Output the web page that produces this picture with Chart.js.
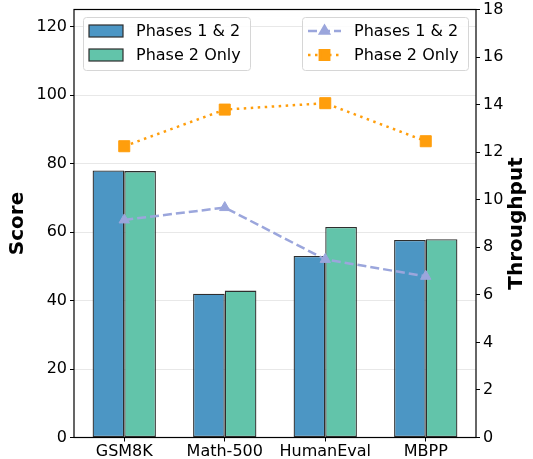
<!DOCTYPE html>
<html>
<head>
<meta charset="utf-8">
<script src="https://cdn.jsdelivr.net/npm/chart.js@4/dist/chart.umd.min.js"></script>
<style>
  html, body { margin: 0; padding: 0; background: #fff; }
  #wrap { width: 533px; height: 459px; }
  canvas { display: block; }
</style>
</head>
<body>
<div id="wrap"><canvas id="c" width="533" height="459"></canvas></div>
<script>
// Benchmarks on the x axis
const categories = ['GSM8K', 'Math-500', 'HumanEval', 'MBPP'];
// Score (left axis) per benchmark
const scoreBoth = [78.0, 42.0, 53.0, 57.7];
const scorePhase2 = [77.8, 42.9, 61.5, 57.9];
// Throughput (right axis) per benchmark
const throughputBoth = [9.15, 9.67, 7.49, 6.78];
const throughputPhase2 = [12.25, 13.79, 14.06, 12.46];
// Series and axis names
const seriesNames = ['Phases 1 & 2', 'Phase 2 Only'];
const leftTitle = 'Score';
const rightTitle = 'Throughput';

const FONT = "'DejaVu Sans', sans-serif";

function fixWidth(w) {
  return function (scale) {
    scale.width = w;
    scale.paddingTop = 0; scale.paddingBottom = 0;
    scale.paddingLeft = 0; scale.paddingRight = 0;
  };
}

// Frame around the plot, rotated axis titles and the two legend boxes
const decorations = {
  id: 'decorations',
  afterDraw(chart) {
    const ctx = chart.ctx;
    const a = chart.chartArea;
    ctx.save();

    // frame
    ctx.strokeStyle = '#000';
    ctx.lineWidth = 1.2;
    ctx.setLineDash([]);
    ctx.strokeRect(a.left, a.top, a.right - a.left, a.bottom - a.top);

    // axis titles, both read bottom to top
    ctx.fillStyle = '#000';
    ctx.font = "bold 20px " + FONT;
    ctx.textAlign = 'center';
    ctx.textBaseline = 'middle';
    const cy = (a.top + a.bottom) / 2;
    [[18, leftTitle], [517, rightTitle]].forEach(([x, t]) => {
      ctx.save();
      ctx.translate(x, cy);
      ctx.rotate(-Math.PI / 2);
      ctx.fillText(t, 0, 0);
      ctx.restore();
    });

    const ds = chart.data.datasets;
    function box(x0, y0, x1, y1) {
      ctx.beginPath();
      ctx.roundRect(x0 + 0.5, y0 + 0.5, x1 - x0, y1 - y0, 3);
      ctx.fillStyle = 'rgba(255,255,255,0.85)';
      ctx.fill();
      ctx.strokeStyle = '#d6d6d6';
      ctx.lineWidth = 1;
      ctx.stroke();
    }
    const rows = [31, 55];
    ctx.font = "16px " + FONT;
    ctx.textAlign = 'left';
    ctx.textBaseline = 'middle';

    // bar legend
    box(83, 17, 250, 70);
    [0, 1].forEach(i => {
      const d = ds[i];
      const y = rows[i];
      ctx.fillStyle = d.backgroundColor;
      ctx.fillRect(89, y - 6, 34, 12);
      ctx.strokeStyle = d.borderColor;
      ctx.lineWidth = 1.2;
      ctx.strokeRect(89, y - 6, 34, 12);
      ctx.fillStyle = '#000';
      ctx.fillText(d.label, 136, y + 1);
    });

    // line legend
    box(302, 17, 468, 70);
    [2, 3].forEach((i, k) => {
      const d = ds[i];
      const y = rows[k];
      ctx.strokeStyle = d.borderColor;
      ctx.lineWidth = d.borderWidth;
      ctx.setLineDash(d.borderDash);
      ctx.beginPath();
      ctx.moveTo(308, y);
      ctx.lineTo(341, y);
      ctx.stroke();
      ctx.setLineDash([]);
      ctx.fillStyle = d.pointBackgroundColor;
      ctx.strokeStyle = d.pointBackgroundColor;
      Chart.helpers.drawPoint(ctx, {
        pointStyle: d.pointStyle, radius: d.pointRadius * 0.85, rotation: 0, borderWidth: 1
      }, 324.5, y);
      ctx.fillStyle = '#000';
      ctx.fillText(d.label, 354, y + 1);
    });

    ctx.restore();
  }
};

new Chart(document.getElementById('c'), {
  type: 'bar',
  data: {
    labels: categories,
    datasets: [
      {
        label: seriesNames[0], data: scoreBoth, yAxisID: 'y', order: 2,
        backgroundColor: '#4C96C4', borderColor: '#2e2e2e', borderWidth: 1.3,
        borderSkipped: false, categoryPercentage: 0.63, barPercentage: 1.0
      },
      {
        label: seriesNames[1], data: scorePhase2, yAxisID: 'y', order: 2,
        backgroundColor: '#62C4AA', borderColor: '#2e2e2e', borderWidth: 1.3,
        borderSkipped: false, categoryPercentage: 0.63, barPercentage: 1.0
      },
      {
        type: 'line', label: seriesNames[0], data: throughputBoth, yAxisID: 'y1', order: 1,
        borderColor: '#9BA6DC', borderWidth: 2.5, borderDash: [9, 4], tension: 0, fill: false,
        pointStyle: 'triangle', pointRadius: 6, pointBackgroundColor: '#9BA6DC',
        pointBorderColor: '#9BA6DC', pointBorderWidth: 1
      },
      {
        type: 'line', label: seriesNames[1], data: throughputPhase2, yAxisID: 'y1', order: 1,
        borderColor: '#FF9E0C', borderWidth: 2.5, borderDash: [2.5, 4.5], tension: 0, fill: false,
        pointStyle: 'rect', pointRadius: 7.8, pointBackgroundColor: '#FF9E0C',
        pointBorderColor: '#FF9E0C', pointBorderWidth: 1
      }
    ]
  },
  options: {
    responsive: false,
    animation: false,
    devicePixelRatio: 1,
    layout: { padding: { top: 9.5, left: 0, right: 0, bottom: 0 } },
    plugins: { legend: { display: false }, tooltip: { enabled: false } },
    scales: {
      x: {
        type: 'category',
        offset: true,
        grid: { display: true, drawOnChartArea: false, offset: false, tickLength: 4, tickColor: '#000', tickWidth: 1 },
        border: { display: false },
        ticks: { font: { family: FONT, size: 16 }, color: '#000', padding: 1, maxRotation: 0, autoSkip: false },
        afterFit(scale) {
          scale.height = 21.5;
          scale.paddingLeft = 0; scale.paddingRight = 0;
        }
      },
      y: {
        position: 'left',
        min: 0, max: 125,
        grid: { color: '#e8e8e8', lineWidth: 1, tickLength: 4, tickColor: '#000', tickWidth: 1 },
        border: { display: false },
        ticks: { stepSize: 20, includeBounds: false, font: { family: FONT, size: 16 }, color: '#000', padding: 3 },
        afterFit: fixWidth(74)
      },
      y1: {
        position: 'right',
        min: 0, max: 18,
        grid: { drawOnChartArea: false, tickLength: 4, tickColor: '#000', tickWidth: 1 },
        border: { display: false },
        ticks: { stepSize: 2, font: { family: FONT, size: 16 }, color: '#000', padding: 3 },
        afterFit: fixWidth(57)
      }
    }
  },
  plugins: [decorations]
});
</script>
</body>
</html>
